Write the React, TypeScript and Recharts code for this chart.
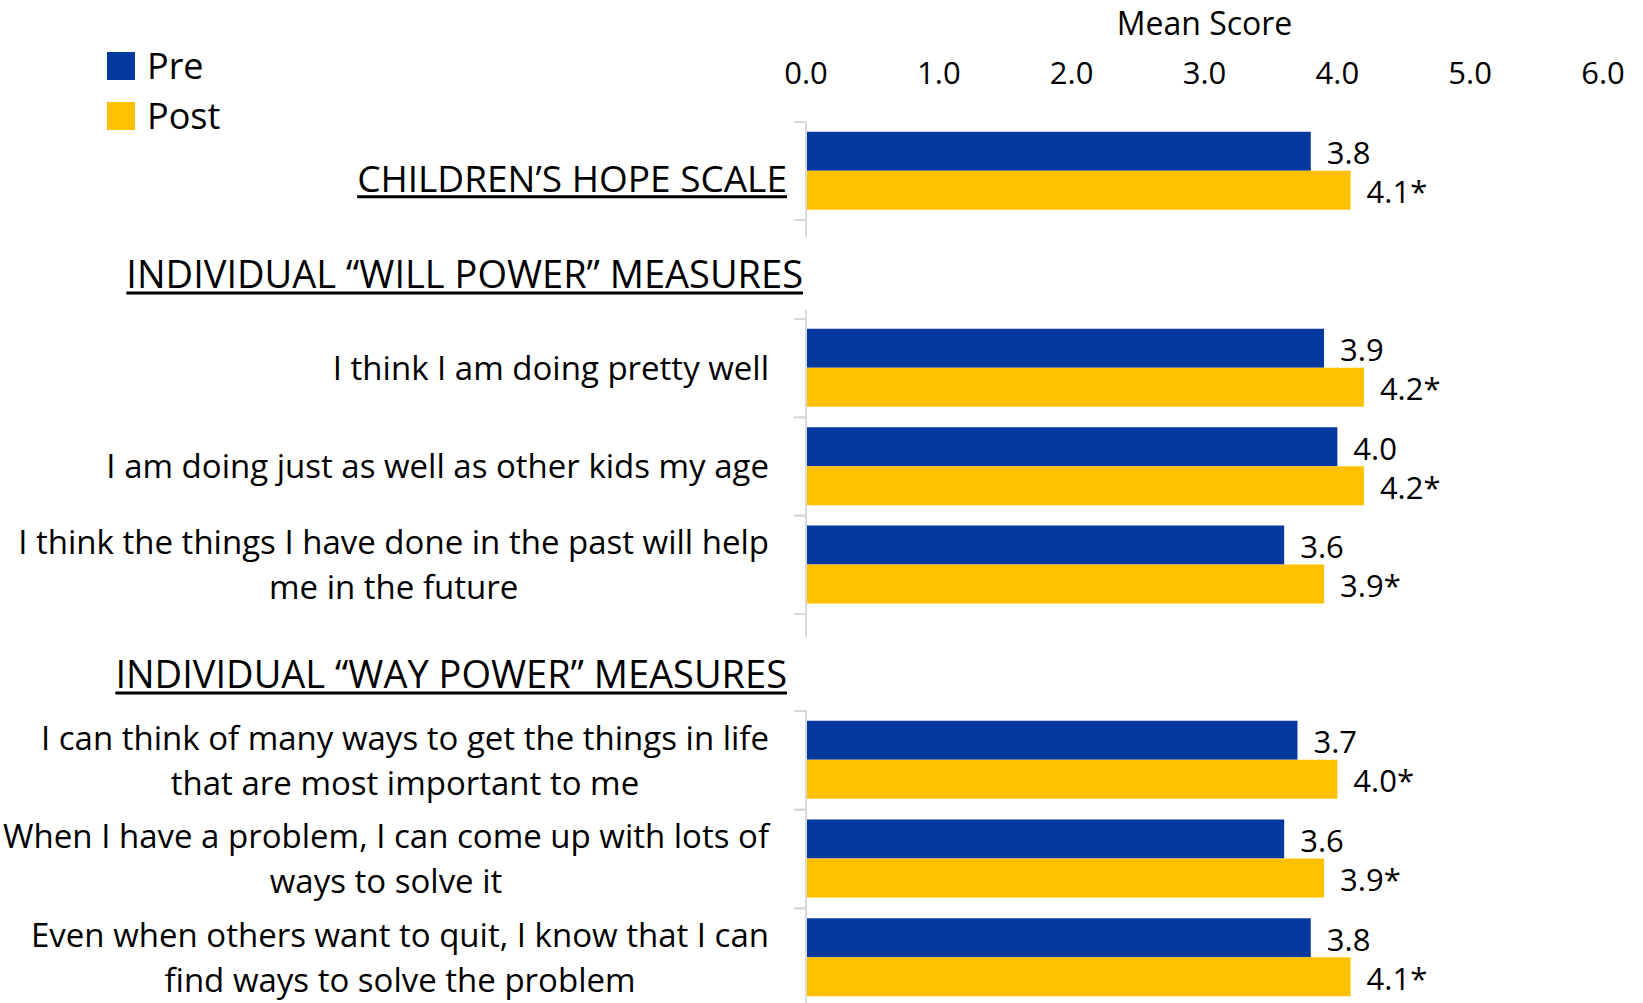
import React from 'react';
import { BarChart, Bar, XAxis, YAxis, Legend, LabelList, Label } from 'recharts';

const FONT = '"Open Sans", sans-serif';
const PRE_COLOR = '#03389E';
const POST_COLOR = '#FFC000';
const AXIS_COLOR = '#D9D9D9';

const seriesNames = ['Pre', 'Post'];
const scaleTicks = [0, 1, 2, 3, 4, 5, 6];

const hopeItems = ['CHILDREN’S HOPE SCALE'];
const hopePre = [3.8];
const hopePost = [4.1];

const willHeader = 'INDIVIDUAL “WILL POWER” MEASURES';
const willItems = [
  'I think I am doing pretty well',
  'I am doing just as well as other kids my age',
  'I think the things I have done in the past will help\nme in the future',
];
const willPre = [3.9, 4.0, 3.6];
const willPost = [4.2, 4.2, 3.9];

const wayHeader = 'INDIVIDUAL “WAY POWER” MEASURES';
const wayItems = [
  'I can think of many ways to get the things in life\nthat are most important to me',
  'When I have a problem, I can come up with lots of\nways to solve it',
  'Even when others want to quit, I know that I can\nfind ways to solve the problem',
];
const wayPre = [3.7, 3.6, 3.8];
const wayPost = [4.0, 3.9, 4.1];

const toRows = (items: string[], pre: number[], post: number[]) =>
  items.map((name, i) => ({ name, pre: pre[i], post: post[i] }));

const hopeData = toRows(hopeItems, hopePre, hopePost);
const willData = toRows(willItems, willPre, willPost);
const wayData = toRows(wayItems, wayPre, wayPost);

// text measuring for centring wrapped labels
const ctx = document.createElement('canvas').getContext('2d');
const textWidth = (s: string, size: number) => {
  if (!ctx) return s.length * size * 0.5;
  ctx.font = `${size}px "Open Sans"`;
  return ctx.measureText(s).width;
};

const CategoryTick = (props: any) => {
  const { x, y, payload, gap, fontSize, underline, dy = 0 } = props;
  const half = payload.offset ?? 0;
  const lines = String(payload.value).split('\n');
  const widest = Math.max(...lines.map((l) => textWidth(l, fontSize)));
  const cx = x - gap - widest / 2;
  const lineH = 45;
  const first = y + dy - ((lines.length - 1) * lineH) / 2 + fontSize * 0.357;
  return (
    <g>
      <line x1={x - 12} x2={x} y1={y - half} y2={y - half} stroke={AXIS_COLOR} strokeWidth={2} />
      <line x1={x - 12} x2={x} y1={y + half} y2={y + half} stroke={AXIS_COLOR} strokeWidth={2} />
      <text textAnchor="middle" fontSize={fontSize} fill="#000">
        {lines.map((l, i) => (
          <tspan key={i} x={cx} y={first + i * lineH}>
            {l}
          </tspan>
        ))}
      </text>
      {underline && (
        <line
          x1={cx - widest / 2}
          x2={cx + widest / 2}
          y1={first + 5}
          y2={first + 5}
          stroke="#000"
          strokeWidth={3}
        />
      )}
    </g>
  );
};

const renderLegend = (props: any) => {
  const items = [...(props.payload || [])].sort(
    (a: any, b: any) => seriesNames.indexOf(a.value) - seriesNames.indexOf(b.value)
  );
  return (
    <div>
      {items.map((entry: any) => (
        <div key={entry.value} style={{ display: 'flex', alignItems: 'center', height: 50 }}>
          <span style={{ width: 28, height: 28, background: entry.color, marginRight: 12 }} />
          <span style={{ fontSize: 36, lineHeight: '36px', color: '#000' }}>{entry.value}</span>
        </div>
      ))}
    </div>
  );
};

const fmtPre = (v: any) => Number(v).toFixed(1);
const fmtPost = (v: any) => `${Number(v).toFixed(1)}*`;

const bars = () => [
  <Bar key="pre" dataKey="pre" name={seriesNames[0]} fill={PRE_COLOR} isAnimationActive={false}>
    <LabelList dataKey="pre" position="right" offset={16} formatter={fmtPre} fill="#000" fontSize={31} dy={2} />
  </Bar>,
  <Bar key="post" dataKey="post" name={seriesNames[1]} fill={POST_COLOR} isAnimationActive={false}>
    <LabelList dataKey="post" position="right" offset={16} formatter={fmtPost} fill="#000" fontSize={31} dy={2} />
  </Bar>,
];

const headers = [
  { text: willHeader, right: 803, base: 288 },
  { text: wayHeader, right: 787, base: 688 },
];

export default function App() {
  return (
    <div
      style={{
        position: 'absolute',
        left: 0,
        top: 0,
        width: 1643,
        height: 1003,
        overflow: 'hidden',
        background: '#fff',
        fontFamily: FONT,
      }}
    >
      <div style={{ position: 'absolute', left: 0, top: 0 }}>
        <BarChart
          width={1643}
          height={240}
          data={hopeData}
          layout="vertical"
          margin={{ top: 0, right: 40, bottom: 3, left: 0 }}
          barCategoryGap="10%"
          barGap={0}
        >
          <XAxis
            type="number"
            orientation="top"
            domain={[0, 6]}
            ticks={scaleTicks}
            interval={0}
            tickFormatter={(v) => Number(v).toFixed(1)}
            axisLine={false}
            tickLine={false}
            tickSize={0}
            tickMargin={38}
            height={122}
            tick={{ fill: '#000', fontSize: 31 }}
          >
            <Label value="Mean Score" position="insideTop" offset={12} fill="#000" fontSize={32} />
          </XAxis>
          <YAxis
            type="category"
            dataKey="name"
            width={806}
            interval={0}
            axisLine={{ stroke: AXIS_COLOR, strokeWidth: 2 }}
            tickLine={false}
            tickSize={0}
            tickMargin={0}
            padding={{ top: 0, bottom: 17 }}
            tick={(p: any) => <CategoryTick {...p} gap={19} fontSize={37} underline dy={7.5} />}
          />
          <Legend
            layout="horizontal"
            verticalAlign="middle"
            align="center"
            content={renderLegend}
            wrapperStyle={{ left: 107, top: 41, width: 'auto', height: 'auto' }}
          />
          {bars()}
        </BarChart>
      </div>

      <div style={{ position: 'absolute', left: 0, top: 240 }}>
        <BarChart
          width={1643}
          height={400}
          data={willData}
          layout="vertical"
          margin={{ top: 70, right: 40, bottom: 3, left: 0 }}
          barCategoryGap="10%"
          barGap={0}
        >
          <XAxis type="number" domain={[0, 6]} ticks={scaleTicks} hide />
          <YAxis
            type="category"
            dataKey="name"
            width={806}
            interval={0}
            axisLine={{ stroke: AXIS_COLOR, strokeWidth: 2 }}
            tickLine={false}
            tickSize={0}
            tickMargin={0}
            padding={{ top: 9, bottom: 23 }}
            tick={(p: any) => <CategoryTick {...p} gap={37} fontSize={33} />}
          />
          {bars()}
        </BarChart>
      </div>

      <div style={{ position: 'absolute', left: 0, top: 640 }}>
        <BarChart
          width={1643}
          height={373}
          data={wayData}
          layout="vertical"
          margin={{ top: 70, right: 40, bottom: 3, left: 0 }}
          barCategoryGap="10%"
          barGap={0}
        >
          <XAxis type="number" domain={[0, 6]} ticks={scaleTicks} hide />
          <YAxis
            type="category"
            dataKey="name"
            width={806}
            interval={0}
            axisLine={{ stroke: AXIS_COLOR, strokeWidth: 2 }}
            tickLine={false}
            tickSize={0}
            tickMargin={0}
            padding={{ top: 1, bottom: 3 }}
            tick={(p: any) => <CategoryTick {...p} gap={37} fontSize={33} />}
          />
          {bars()}
        </BarChart>
      </div>

      <svg
        width={1643}
        height={1003}
        style={{ position: 'absolute', left: 0, top: 0, pointerEvents: 'none' }}
      >
        {headers.map((h) => {
          const w = textWidth(h.text, 38);
          return (
            <g key={h.text}>
              <text x={h.right} y={h.base} textAnchor="end" fontSize={38} fill="#000">
                {h.text}
              </text>
              <line x1={h.right - w} x2={h.right} y1={h.base + 5} y2={h.base + 5} stroke="#000" strokeWidth={3} />
            </g>
          );
        })}
      </svg>
    </div>
  );
}
